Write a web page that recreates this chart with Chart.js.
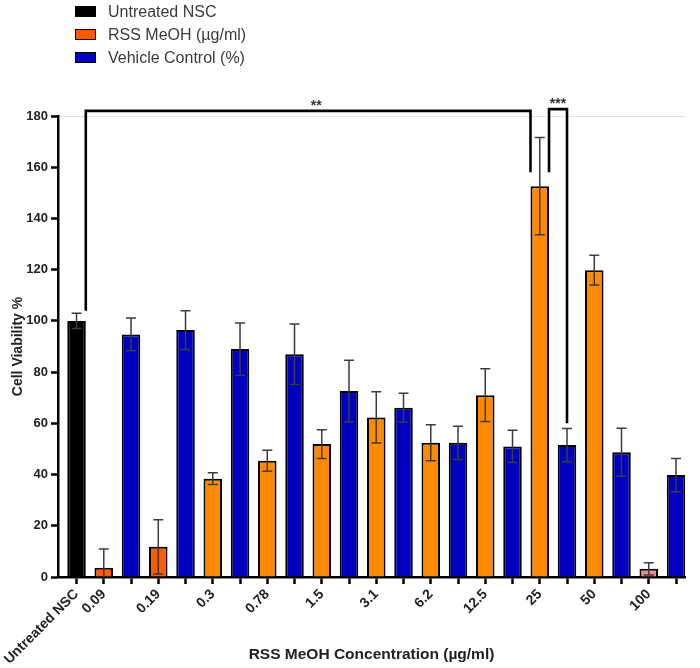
<!DOCTYPE html>
<html>
<head>
<meta charset="utf-8">
<script src="https://cdn.jsdelivr.net/npm/chart.js@4/dist/chart.umd.min.js"></script>
<style>
  html, body { margin: 0; padding: 0; background: #fff; }
  #wrap { position: relative; width: 700px; height: 668px; }
  #legend { position: absolute; left: 75px; top: 0; font-family: "Liberation Sans", Arial, sans-serif; font-size: 16px; color: #3a3a3a; }
  #legend .item { display: flex; align-items: center; height: 23px; }
  #legend .box { width: 19px; height: 9px; border: 1.5px solid #000; margin-right: 12px; }
</style>
</head>
<body>
<div id="wrap">
  <canvas id="chart" width="700" height="668"></canvas>
  <div id="legend"></div>
</div>
<script>
// Concentrations (µg/ml) shown on the x axis
const concentrations = ['0.09', '0.19', '0.3', '0.78', '1.5', '3.1', '6.2', '12.5', '25', '50', '100'];

// Untreated NSC control
const untreatedValue = 100;
const untreatedErr = 3;

// RSS MeOH treated (% viability) and error
const rssValues = [3.6, 11.8, 38.4, 45.4, 51.9, 62.3, 52.4, 71.0, 152.6, 119.8, 3.2];
const rssErr = [7.3, 10.6, 2.3, 4.1, 5.6, 10.0, 7.0, 10.3, 19.0, 5.8, 2.4];
const rssColors = ['#FF5A00', '#FF5A00', '#FF8A00', '#FF8A00', '#FF8A00', '#FF8A00',
  '#FF8A00', '#FF8A00', '#FF8A00', '#FF8A00', '#F4868A'];

// Vehicle control (%) and error
const vehicleValues = [94.7, 96.4, 89.0, 87.0, 72.6, 66.1, 52.4, 51.0, 51.5, 48.7, 39.8];
const vehicleErr = [6.4, 7.6, 10.2, 11.8, 12.0, 5.6, 6.5, 6.3, 6.5, 9.4, 6.5];

// Significance brackets: bar slot indexes, leg side, leg bottom values, bracket level
const sigBrackets = [
  { from: 0, fromSide: 'right', to: 17, toSide: 'left', level: 182, legs: [104, 158], text: '**' },
  { from: 17, fromSide: 'right', to: 18, toSide: 'center', level: 182.7, legs: [158, 60], text: '***' }
];

// Bar slots: control first, then an RSS / vehicle pair per concentration
const labels = ['Untreated NSC'];
concentrations.forEach(c => labels.push(c, ''));

const untreatedPoints = [{ x: 0, y: untreatedValue, err: untreatedErr }];
const rssPoints = rssValues.map((v, i) => ({ x: 1 + 2 * i, y: v, err: rssErr[i] }));
const vehiclePoints = vehicleValues.map((v, i) => ({ x: 2 + 2 * i, y: v, err: vehicleErr[i] }));

const FONT = '"Liberation Sans", Arial, sans-serif';

const errorBarPlugin = {
  id: 'errorBars',
  afterDatasetsDraw(chart) {
    const ctx = chart.ctx;
    const y = chart.scales.y;
    ctx.save();
    ctx.strokeStyle = '#3c3c3c';
    ctx.lineWidth = 1.5;
    chart.data.datasets.forEach((ds, di) => {
      const meta = chart.getDatasetMeta(di);
      ds.data.forEach((p, i) => {
        const x = meta.data[i].x;
        const top = y.getPixelForValue(p.y + p.err);
        const bot = Math.min(y.getPixelForValue(p.y - p.err), chart.chartArea.bottom);
        ctx.beginPath();
        ctx.moveTo(x, top);
        ctx.lineTo(x, bot);
        ctx.moveTo(x - 5, top);
        ctx.lineTo(x + 5, top);
        if (p.y - p.err > 0) {
          ctx.moveTo(x - 5, bot);
          ctx.lineTo(x + 5, bot);
        }
        ctx.stroke();
      });
    });
    ctx.restore();
  }
};

const bracketPlugin = {
  id: 'brackets',
  afterDatasetsDraw(chart) {
    const ctx = chart.ctx;
    const y = chart.scales.y;
    const x = chart.scales.x;
    const half = chart.getDatasetMeta(0).data[0].width / 2;
    const sideX = (idx, side) => {
      const cx = x.getPixelForValue(idx);
      return side === 'left' ? cx - half : side === 'right' ? cx + half : cx;
    };
    ctx.save();
    ctx.strokeStyle = '#000';
    ctx.lineWidth = 2.6;
    sigBrackets.forEach(b => {
      const x1 = sideX(b.from, b.fromSide);
      const x2 = sideX(b.to, b.toSide);
      const yt = y.getPixelForValue(b.level);
      ctx.beginPath();
      ctx.moveTo(x1, y.getPixelForValue(b.legs[0]));
      ctx.lineTo(x1, yt);
      ctx.lineTo(x2, yt);
      ctx.lineTo(x2, y.getPixelForValue(b.legs[1]));
      ctx.stroke();
      ctx.fillStyle = '#333';
      ctx.font = 'bold 14px ' + FONT;
      ctx.textAlign = 'center';
      ctx.textBaseline = 'bottom';
      ctx.fillText(b.text, (x1 + x2) / 2 + (b.text === '**' ? 8 : 0), yt + 2);
    });
    ctx.restore();
  }
};

const chart = new Chart(document.getElementById('chart'), {
  type: 'bar',
  data: {
    datasets: [
      {
        label: 'Untreated NSC',
        data: untreatedPoints,
        backgroundColor: '#000000',
        borderColor: '#000000',
        borderWidth: 2
      },
      {
        label: 'RSS MeOH (µg/ml)',
        data: rssPoints,
        backgroundColor: rssColors,
        borderColor: '#000000',
        borderWidth: 2
      },
      {
        label: 'Vehicle Control (%)',
        data: vehiclePoints,
        backgroundColor: '#0000BE',
        borderColor: '#000000',
        borderWidth: 2
      }
    ]
  },
  options: {
    responsive: false,
    animation: false,
    devicePixelRatio: 1,
    barPercentage: 0.68,
    categoryPercentage: 1,
    layout: { padding: { top: 116, right: 15, left: 0, bottom: 0 } },
    plugins: {
      legend: { display: false },
      tooltip: { enabled: false }
    },
    scales: {
      x: {
        type: 'linear',
        stacked: true,
        offset: false,
        min: -0.68,
        max: 22.33,
        border: { display: true, color: '#000', width: 2.5 },
        grid: {
          offset: false,
          drawOnChartArea: false,
          tickLength: 7,
          tickWidth: 2.5,
          tickColor: '#000'
        },
        afterBuildTicks(scale) {
          scale.ticks = labels.map((_, i) => ({ value: i }));
        },
        ticks: {
          autoSkip: false,
          minRotation: 45,
          maxRotation: 45,
          padding: 2,
          color: '#222',
          font: { family: FONT, size: 14, weight: 'bold' },
          callback: value => labels[value] || ''
        },
        title: {
          display: true,
          text: 'RSS MeOH Concentration (µg/ml)',
          color: '#222',
          padding: { top: 0, bottom: 4 },
          font: { family: FONT, size: 15.5, weight: 'bold' }
        },
        afterFit(scale) {
          scale.height = 91;
          scale.paddingLeft = 0;
          scale.paddingRight = 0;
        }
      },
      y: {
        stacked: true,
        min: 0,
        max: 180,
        border: { display: true, color: '#000', width: 2.5 },
        grid: {
          color: ctx => (ctx.tick && ctx.tick.value === 180) ? '#e4e4e4' : 'rgba(0,0,0,0)',
          tickLength: 7,
          tickWidth: 2.5,
          tickColor: '#000'
        },
        ticks: {
          stepSize: 20,
          padding: 3,
          color: '#222',
          font: { family: FONT, size: 13, weight: 'bold' }
        },
        title: {
          display: true,
          text: 'Cell Viability %',
          color: '#222',
          padding: { top: 10, bottom: 0 },
          font: { family: FONT, size: 14, weight: 'bold' }
        },
        afterFit(scale) {
          scale.width = 58;
        }
      }
    }
  },
  plugins: [errorBarPlugin, bracketPlugin]
});

// Legend in the top-left corner, built from the datasets
const legendEl = document.getElementById('legend');
const legendColors = ['#000000', '#FF5A00', '#0000BE'];
chart.data.datasets.forEach((ds, i) => {
  const item = document.createElement('div');
  item.className = 'item';
  const box = document.createElement('span');
  box.className = 'box';
  box.style.background = legendColors[i];
  const txt = document.createElement('span');
  txt.textContent = ds.label;
  item.appendChild(box);
  item.appendChild(txt);
  legendEl.appendChild(item);
});
</script>
</body>
</html>
